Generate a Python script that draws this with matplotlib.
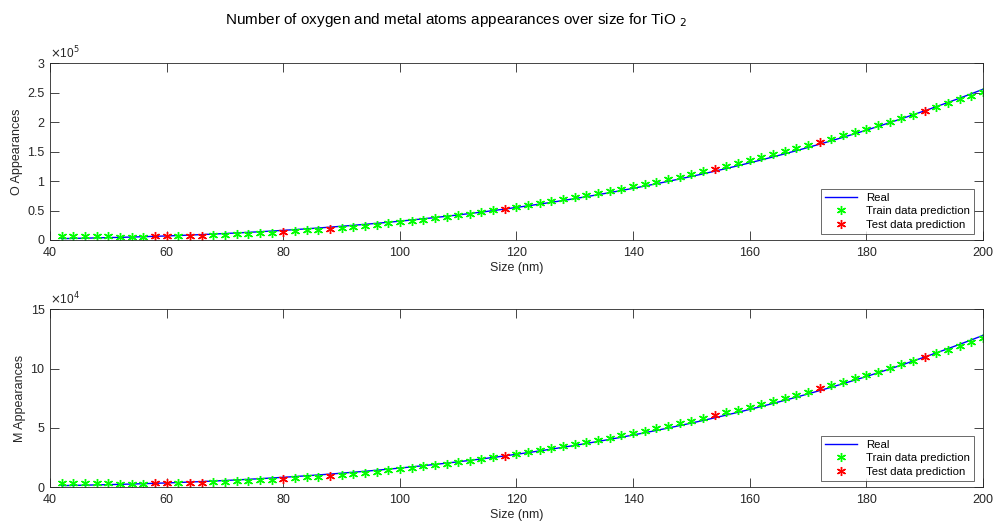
import matplotlib
matplotlib.use("Agg")
import matplotlib.pyplot as plt
from matplotlib.ticker import FuncFormatter

plt.rcParams['font.family'] = ['Liberation Sans', 'DejaVu Sans']

# dimensioni (nm)
size = [42, 44, 46, 48, 50, 52, 54, 56, 58, 60, 62, 64, 66, 68, 70, 72, 74, 76, 78, 80,
        82, 84, 86, 88, 90, 92, 94, 96, 98, 100, 102, 104, 106, 108, 110, 112, 114, 116, 118, 120,
        122, 124, 126, 128, 130, 132, 134, 136, 138, 140, 142, 144, 146, 148, 150, 152, 154, 156, 158, 160,
        162, 164, 166, 168, 170, 172, 174, 176, 178, 180, 182, 184, 186, 188, 190, 192, 194, 196, 198, 200]

# valori reali
o_real = [2371, 2726, 3115, 3539, 4000, 4499, 5039, 5620, 6244, 6912, 7626, 8389, 9200, 10062, 10976,
          11944, 12967, 14047, 15186, 16384, 17644, 18967, 20354, 21807, 23328, 24918, 26579, 28312,
          30118, 32000, 33959, 35996, 38113, 40311, 42592, 44958, 47409, 49949, 52577, 55296, 58107,
          61012, 64012, 67109, 70304, 73599, 76995, 80495, 84098, 87808, 91625, 95551, 99588, 103737,
          108000, 112378, 116872, 121485, 126218, 131072, 136049, 141150, 146377, 151732, 157216,
          162830, 168577, 174457, 180472, 186624, 192914, 199344, 205915, 212630, 219488, 226492,
          233644, 240945, 248397, 256000]
m_real = [1185, 1363, 1557, 1769, 2000, 2250, 2519, 2810, 3122, 3456, 3813, 4194, 4600, 5031, 5488,
          5972, 6484, 7024, 7593, 8192, 8822, 9483, 10177, 10904, 11664, 12459, 13289, 14156, 15059,
          16000, 16979, 17998, 19056, 20155, 21296, 22479, 23705, 24974, 26289, 27648, 29054, 30506,
          32006, 33554, 35152, 36799, 38498, 40247, 42049, 43904, 45813, 47776, 49794, 51869, 54000,
          56189, 58436, 60743, 63109, 65536, 68024, 70575, 73189, 75866, 78608, 81415, 84288, 87228,
          90236, 93312, 96457, 99672, 102958, 106315, 109744, 113246, 116822, 120472, 124198, 128000]

# previsioni del modello
o_pred = [7463, 6955, 6539, 6216, 5985, 5846, 5800, 5846, 5985, 6216, 6539, 6955, 7463, 8064, 8757,
          9542, 10420, 11390, 12453, 13608, 14855, 16195, 17627, 19152, 20769, 22478, 24280, 26174,
          28161, 30240, 32411, 34675, 37031, 39480, 42021, 44654, 47380, 50198, 53109, 56112, 59207,
          62395, 65675, 69048, 72513, 76070, 79720, 83462, 87297, 91224, 95243, 99355, 103559, 107856,
          112245, 116726, 121300, 125966, 130725, 135576, 140519, 145555, 150683, 155904, 161217,
          166622, 172120, 177710, 183393, 189168, 195035, 200995, 207047, 213192, 219429, 225758,
          232180, 238694, 245301, 252000]
m_pred = [3732, 3478, 3270, 3108, 2993, 2923, 2900, 2923, 2993, 3108, 3270, 3478, 3732, 4032, 4379,
          4771, 5210, 5695, 6227, 6804, 7428, 8098, 8814, 9576, 10385, 11239, 12140, 13087, 14081,
          15120, 16206, 17338, 18516, 19740, 21011, 22327, 23690, 25099, 26555, 28056, 29604, 31198,
          32838, 34524, 36257, 38035, 39860, 41731, 43649, 45612, 47622, 49678, 51780, 53928, 56123,
          58363, 60650, 62983, 65363, 67788, 70260, 72778, 75342, 77952, 80609, 83311, 86060, 88855,
          91697, 94584, 97518, 100498, 103524, 106596, 109715, 112879, 116090, 119347, 122651, 126000]

# dimensioni usate come test
test_sizes = [58, 60, 64, 66, 80, 88, 118, 154, 172, 190]

is_test = [s in test_sizes for s in size]
train_x = [s for s, t in zip(size, is_test) if not t]
test_x = [s for s, t in zip(size, is_test) if t]

ast = (6, 2, 0)
grigio = '#262626'

fig = plt.figure(figsize=(9.94, 5.24), dpi=100)
ax1 = fig.add_axes([0.0503, 0.542, 0.9386, 0.337])
ax2 = fig.add_axes([0.0503, 0.0706, 0.9386, 0.339])

pannelli = [
    (ax1, o_real, o_pred, 'O Appearances', 3e5, [0, 0.5e5, 1e5, 1.5e5, 2e5, 2.5e5, 3e5], 1e5, '5'),
    (ax2, m_real, m_pred, 'M Appearances', 15e4, [0, 5e4, 10e4, 15e4], 1e4, '4'),
]

for ax, real, pred, ylab, ymax, yt, scala, esp in pannelli:
    tr_y = [p for p, t in zip(pred, is_test) if not t]
    te_y = [p for p, t in zip(pred, is_test) if t]
    ax.plot(size, real, color='#0000ff', lw=1.0, label='Real')
    ax.plot(train_x, tr_y, ls='none', marker=ast, ms=6.5, mew=1.0, color='#00ff00',
            label='Train data prediction')
    ax.plot(test_x, te_y, ls='none', marker=ast, ms=6.5, mew=1.0, color='#ff0000',
            label='Test data prediction')
    ax.set_xlim(40, 200)
    ax.set_ylim(0, ymax)
    ax.set_xticks(range(40, 201, 20))
    ax.set_yticks(yt)
    ax.yaxis.set_major_formatter(FuncFormatter(lambda v, p, s=scala: '%g' % (v / s)))
    ax.tick_params(direction='in', top=True, right=True, length=6.5, width=0.6,
                   colors=grigio, labelsize=9)
    ax.tick_params(axis='x', pad=5)
    ax.tick_params(axis='y', pad=4)
    for sp in ax.spines.values():
        sp.set_color(grigio)
        sp.set_linewidth(0.6)
    ax.set_xlabel('Size (nm)', fontsize=9, color=grigio, labelpad=2)
    ax.set_ylabel(ylab, fontsize=9, color=grigio, labelpad=3)
    ax.text(0.0, 1.012, r'$\times$10$^{%s}$' % esp, transform=ax.transAxes,
            fontsize=8.5, color=grigio, ha='left', va='bottom')
    leg = ax.legend(loc='lower right', fontsize=8.2, frameon=True, fancybox=False,
                    borderpad=0.35, labelspacing=0.3, handlelength=2.8,
                    bbox_to_anchor=(0.9905, 0.035), borderaxespad=0)
    leg.get_frame().set_edgecolor(grigio)
    leg.get_frame().set_linewidth(0.6)

fig.text(0.459, 0.962, r'Number of oxygen and metal atoms appearances over size for TiO $_{2}$',
         fontsize=11, ha='center', va='center')

plt.savefig("out.png", dpi=100)
